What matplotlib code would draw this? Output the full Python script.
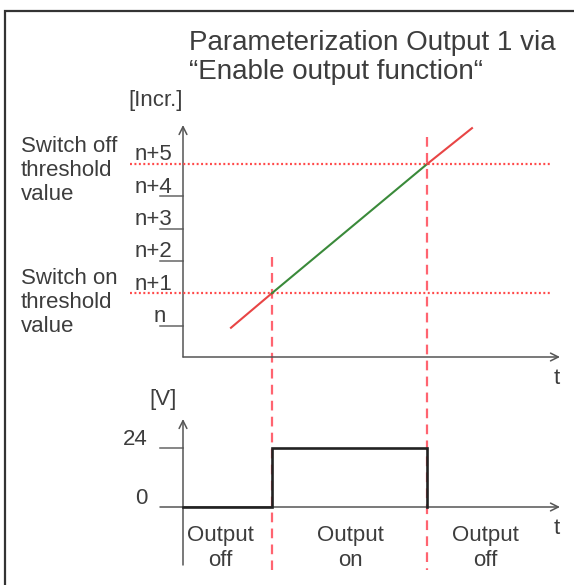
import matplotlib
matplotlib.use("Agg")
import matplotlib.pyplot as plt
from matplotlib.patches import Rectangle

plt.rcParams['font.family'] = ['Liberation Sans', 'DejaVu Sans']
plt.rcParams['lines.scale_dashes'] = False

# --- data -------------------------------------------------------------
# time in arbitrary units, increments relative to n
ramp_t = [1.23, 2.28, 6.26, 7.41]
ramp_v = [-0.07, 1.0, 5.0, 6.11]
t_on, t_off = 2.28, 6.26
on_level, off_level = 1, 5
incr_levels = [0, 1, 2, 3, 4, 5]
incr_labels = ['n', 'n+1', 'n+2', 'n+3', 'n+4', 'n+5']
sig_t = [0, t_on, t_on, t_off, t_off]
sig_v = [0, 0, 24, 24, 0]
volt_ticks = [0, 24]
state_labels = ['Output\noff', 'Output\non', 'Output\noff']
state_t = [0.95, 4.3, 7.75]

W, H = 574, 585
TXT = '#3d3d3d'
AX = '#555555'
FS = 16

# pixel layout helpers
X0, PX_T = 183, 39.0        # y-axis position and px per time unit
Y0_UP, PX_I = 325.5, 32.3   # level n position and px per increment
Y0_LO, PX_V = 507, 59 / 24  # 0 V position and px per volt


def fx(px):
    return px / W


def fy(py):
    return 1 - py / H


fig = plt.figure(figsize=(W / 100, H / 100), dpi=100)

# frame
fig.add_artist(Rectangle((fx(4.5), -0.1), 1.2, fy(11) + 0.1, transform=fig.transFigure,
                         fill=False, ec='#333333', lw=1.6, clip_on=False))

xlim = ((100 - X0) / PX_T, (W - X0) / PX_T)

# --- upper panel: increments ---------------------------------------
top_px, bot_px = 115, 375
ax = fig.add_axes([fx(100), fy(bot_px), fx(W - 100), (bot_px - top_px) / H])
ax.set_xlim(*xlim)
ax.set_ylim((Y0_UP - bot_px) / PX_I, (Y0_UP - top_px) / PX_I)
ax.axis('off')

t_end = (560 - X0) / PX_T
y_axis = (Y0_UP - 357) / PX_I
arr = dict(arrowstyle='->', color=AX, lw=1.1, shrinkA=0, shrinkB=0, mutation_scale=14)
ax.annotate('', xy=(0, (Y0_UP - 125) / PX_I), xytext=(0, y_axis), arrowprops=arr,
            annotation_clip=False)
ax.annotate('', xy=(t_end, y_axis), xytext=(0, y_axis), arrowprops=arr,
            annotation_clip=False)

tick_x0 = (160 - X0) / PX_T
for lv in incr_levels:
    if lv not in (on_level, off_level):
        ax.plot([tick_x0, 0], [lv, lv], color='#666666', lw=1.1, clip_on=False)

label_right = [166, 172, 172, 172, 172, 172]
for lv, lab, xr in zip(incr_levels, incr_labels, label_right):
    ax.text((xr - X0) / PX_T, lv + 0.28, lab, ha='right', va='center',
            fontsize=FS, color=TXT)

# threshold lines
for lv in (on_level, off_level):
    ax.plot([(130 - X0) / PX_T, (550 - X0) / PX_T], [lv, lv], color='#ff4a4a',
            lw=1.6, dashes=(1.4, 1.8), clip_on=False, zorder=3)

# ramp: red below/above thresholds, green in between
ax.plot(ramp_t[0:2], ramp_v[0:2], color='#e84545', lw=1.5, zorder=4)
ax.plot(ramp_t[1:3], ramp_v[1:3], color='#3a8a3a', lw=1.5, zorder=4)
ax.plot(ramp_t[2:4], ramp_v[2:4], color='#e84545', lw=1.5, zorder=4)

# switching moments, running down through the lower panel
low_end = (Y0_UP - 570) / PX_I
ax.plot([t_on, t_on], [(Y0_UP - 257) / PX_I, low_end], color='#ff6470', lw=1.6,
        dashes=(7, 4.5), clip_on=False, zorder=2)
ax.plot([t_off, t_off], [(Y0_UP - 137) / PX_I, low_end], color='#ff6470', lw=1.6,
        dashes=(7, 4.5), clip_on=False, zorder=2)

# --- lower panel: voltage -------------------------------------------
top_px, bot_px = 380, 585
ax2 = fig.add_axes([fx(100), fy(bot_px), fx(W - 100), (bot_px - top_px) / H])
ax2.set_xlim(*xlim)
ax2.set_ylim((Y0_LO - bot_px) / PX_V, (Y0_LO - top_px) / PX_V)
ax2.axis('off')

ax2.annotate('', xy=(0, (Y0_LO - 419) / PX_V), xytext=(0, (Y0_LO - 565) / PX_V),
             arrowprops=arr, annotation_clip=False)
ax2.annotate('', xy=(t_end, 0), xytext=(tick_x0, 0), arrowprops=arr,
             annotation_clip=False)
ax2.plot([tick_x0, 0], [24, 24], color='#666666', lw=1.1)
ax2.plot(sig_t, sig_v, color='#222222', lw=1.9, solid_joinstyle='miter', zorder=4)

for v, xr in zip(volt_ticks, [148, 148]):
    ax2.text((xr - X0) / PX_T, v + 3.6, str(v), ha='right', va='center',
             fontsize=FS, color=TXT)

for st, lab in zip(state_t, state_labels):
    ax2.text(st, (Y0_LO - 548) / PX_V, lab, ha='center', va='center',
             fontsize=FS, color=TXT, linespacing=1.2)

# --- free texts ------------------------------------------------------
fig.text(fx(189), fy(43), 'Parameterization Output 1 via', fontsize=20,
         color=TXT, va='center', ha='left')
fig.text(fx(189), fy(72), '\u201cEnable output function\u201c', fontsize=20,
         color=TXT, va='center', ha='left')
fig.text(fx(156), fy(100), '[Incr.]', fontsize=FS, color=TXT, ha='center', va='center')
fig.text(fx(163), fy(400), '[V]', fontsize=FS, color=TXT, ha='center', va='center')
fig.text(fx(21), fy(170.5), 'Switch off\nthreshold\nvalue', fontsize=FS, color=TXT,
         ha='left', va='center', linespacing=1.21)
fig.text(fx(21), fy(302.5), 'Switch on\nthreshold\nvalue', fontsize=FS, color=TXT,
         ha='left', va='center', linespacing=1.21)
fig.text(fx(557), fy(378), 't', fontsize=FS, color=TXT, ha='center', va='center')
fig.text(fx(557), fy(528), 't', fontsize=FS, color=TXT, ha='center', va='center')

fig.savefig('out.png', dpi=100)
